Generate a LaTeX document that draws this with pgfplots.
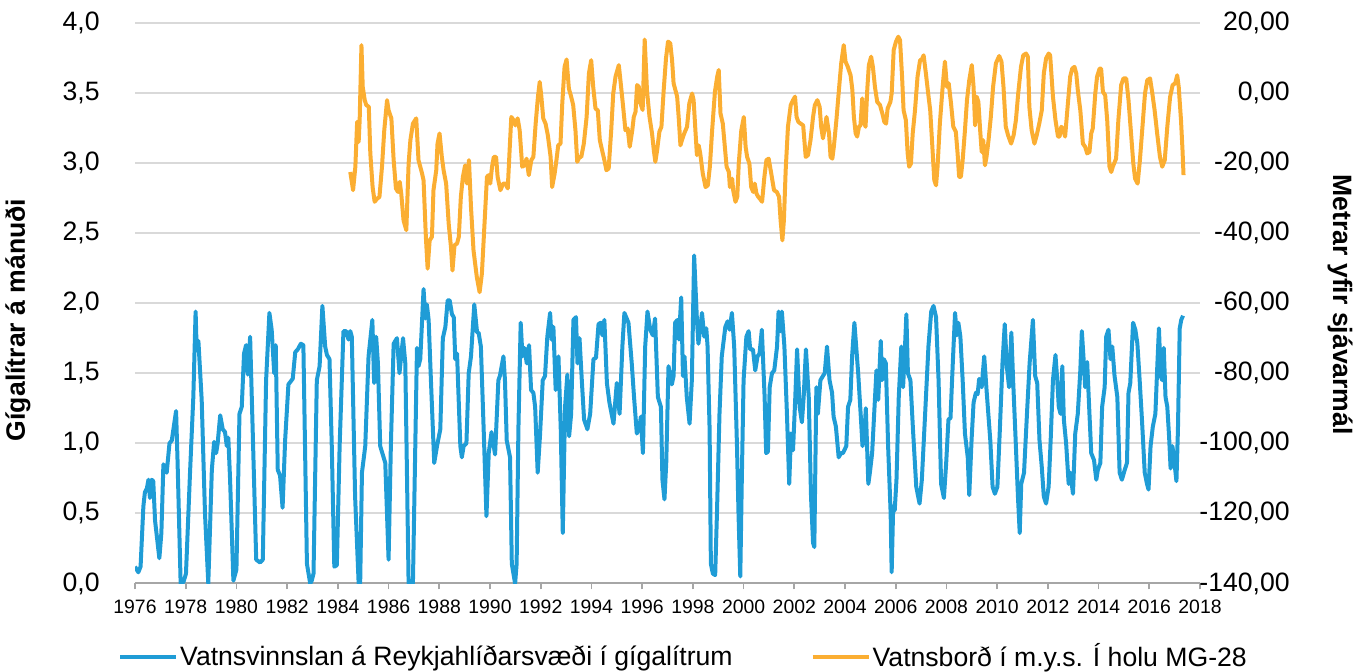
\documentclass[border=0pt]{standalone}
\usepackage{fontspec}
\setmainfont{Liberation Sans}
\usepackage{pgfplots}
\pgfplotsset{compat=1.18}
\pgfplotsset{/pgf/number format/assume math mode=true}
\definecolor{cblue}{RGB}{31,156,214}
\definecolor{corange}{RGB}{251,174,50}
\definecolor{cgrid}{RGB}{217,217,217}
\definecolor{caxis}{RGB}{166,166,166}
\newcommand{\bigf}{\fontsize{13.3}{16}\selectfont}
\newcommand{\smallf}{\fontsize{9.7}{11}\selectfont}
\begin{document}
\begin{tikzpicture}
\useasboundingbox (0,0) rectangle (681.5pt,336pt);
\begin{axis}[
  at={(67.5pt,44.25pt)}, anchor=south west,
  scale only axis, width=532.5pt, height=280.4pt,
  xmin=1976, xmax=2018, ymin=0, ymax=4,
  axis lines*=left,
  y axis line style={draw=none},
  x axis line style={caxis, line width=1pt},
  xtick={1976,1978,...,2018},
  xtick align=outside, xtick pos=bottom,
  major tick length=3pt,
  xtick style={caxis, line width=0.8pt},
  xticklabel style={font=\smallf, inner sep=0pt, yshift=-5pt, /pgf/number format/1000 sep={}},
  ytick={0,0.5,...,4},
  ytick style={draw=none}, ytick align=inside,
  yticklabel style={font=\bigf, anchor=east, inner sep=0pt, xshift=-17.5pt,
    /pgf/number format/.cd, fixed, fixed zerofill, precision=1, use comma},
  ymajorgrids, grid style={cgrid, line width=1pt},
  ylabel={Gígalítrar á mánuði},
  every axis y label/.style={at={(axis description cs:-0.11,0.47)}, rotate=90, anchor=center, font=\bfseries\bigf},
  legend columns=2,
  legend style={at={(axis description cs:0.515,-0.131)}, anchor=center, draw=none, fill=none,
    font=\bigf, nodes={inner sep=1pt}, /tikz/every even column/.append style={column sep=38pt}},
  legend image code/.code={\draw[#1] (0pt,0pt) -- (28pt,0pt);},
]
\addplot[cblue, line width=2pt, line join=round, no markers] coordinates {
(1976.00,0.12)(1976.13,0.08)(1976.22,0.12)(1976.33,0.55)(1976.39,0.65)(1976.47,0.68)(1976.53,0.74)(1976.59,0.61)(1976.66,0.74)(1976.72,0.73)(1976.79,0.45)(1976.96,0.18)
(1977.04,0.36)(1977.12,0.85)(1977.25,0.79)(1977.36,1.00)(1977.45,1.02)(1977.62,1.23)(1977.68,0.86)(1977.80,0.00)(1977.91,0.01)
(1978.01,0.07)(1978.17,0.79)(1978.30,1.33)(1978.39,1.94)(1978.43,1.68)(1978.50,1.73)(1978.63,1.31)(1978.76,0.50)(1978.89,0.00)
(1979.03,0.81)(1979.12,1.01)(1979.20,0.93)(1979.26,1.00)(1979.36,1.20)(1979.46,1.10)(1979.55,1.08)(1979.62,0.98)(1979.68,1.04)(1979.75,0.74)(1979.88,0.02)
(1980.00,0.10)(1980.12,1.21)(1980.21,1.26)(1980.30,1.64)(1980.38,1.70)(1980.45,1.49)(1980.54,1.76)(1980.64,1.10)(1980.78,0.17)(1980.93,0.15)
(1981.04,0.17)(1981.17,1.45)(1981.30,1.93)(1981.39,1.81)(1981.49,1.50)(1981.55,1.70)(1981.63,0.81)(1981.72,0.77)(1981.82,0.54)(1981.92,1.02)
(1982.05,1.42)(1982.22,1.46)(1982.32,1.65)(1982.42,1.67)(1982.54,1.71)(1982.64,1.70)(1982.78,0.14)(1982.91,0.00)(1982.97,0.02)
(1983.04,0.07)(1983.17,1.45)(1983.28,1.55)(1983.39,1.98)(1983.50,1.69)(1983.57,1.63)(1983.67,1.60)(1983.76,0.98)(1983.86,0.12)(1983.96,0.13)
(1984.07,0.98)(1984.22,1.80)(1984.33,1.80)(1984.42,1.74)(1984.49,1.80)(1984.55,1.76)(1984.68,0.62)(1984.82,0.00)(1984.88,0.00)(1984.95,0.79)
(1985.08,0.98)(1985.21,1.62)(1985.36,1.88)(1985.43,1.43)(1985.51,1.76)(1985.58,1.57)(1985.67,0.98)(1985.87,0.86)
(1986.00,0.17)(1986.09,0.98)(1986.20,1.71)(1986.33,1.75)(1986.43,1.50)(1986.57,1.75)(1986.66,1.57)(1986.79,0.00)(1986.96,0.00)
(1987.12,1.68)(1987.18,1.55)(1987.25,1.60)(1987.38,2.10)(1987.45,1.89)(1987.51,1.99)(1987.58,1.88)(1987.67,1.45)(1987.80,0.86)(1987.91,0.98)
(1988.04,1.10)(1988.14,1.75)(1988.24,1.83)(1988.33,2.02)(1988.41,2.02)(1988.50,1.92)(1988.57,1.90)(1988.63,1.60)(1988.70,1.64)(1988.83,0.98)(1988.89,0.90)(1988.96,0.98)
(1989.07,1.00)(1989.16,1.50)(1989.25,1.62)(1989.38,1.99)(1989.49,1.79)(1989.55,1.79)(1989.64,1.69)(1989.75,1.10)(1989.86,0.48)(1989.95,0.93)
(1990.06,1.08)(1990.20,0.92)(1990.33,1.45)(1990.39,1.48)(1990.53,1.62)(1990.59,1.45)(1990.66,1.02)(1990.79,0.90)(1990.86,0.14)(1990.99,0.00)
(1991.05,0.14)(1991.12,1.10)(1991.21,1.86)(1991.28,1.62)(1991.36,1.68)(1991.45,1.57)(1991.54,1.70)(1991.62,1.38)(1991.71,1.36)(1991.78,1.26)(1991.88,0.79)(1991.97,1.05)
(1992.08,1.45)(1992.17,1.48)(1992.26,1.76)(1992.37,1.93)(1992.43,1.74)(1992.50,1.83)(1992.59,1.38)(1992.70,1.62)(1992.79,1.10)(1992.87,0.36)(1992.96,1.26)
(1993.05,1.49)(1993.12,1.05)(1993.20,1.21)(1993.29,1.88)(1993.39,1.90)(1993.45,1.57)(1993.53,1.75)(1993.62,1.45)(1993.71,1.17)(1993.84,1.10)(1993.95,1.21)
(1994.08,1.60)(1994.18,1.61)(1994.28,1.85)(1994.37,1.86)(1994.43,1.77)(1994.51,1.88)(1994.61,1.43)(1994.71,1.29)(1994.87,1.14)
(1995.00,1.43)(1995.11,1.21)(1995.22,1.69)(1995.30,1.93)(1995.46,1.86)(1995.59,1.57)(1995.68,1.33)(1995.79,1.07)(1995.88,1.10)(1995.95,1.19)
(1996.03,0.93)(1996.12,1.69)(1996.21,1.94)(1996.32,1.81)(1996.42,1.77)(1996.51,1.89)(1996.62,1.33)(1996.74,1.26)(1996.80,0.74)(1996.88,0.60)(1996.95,0.86)
(1997.04,1.55)(1997.17,1.42)(1997.24,1.48)(1997.30,1.86)(1997.39,1.88)(1997.45,1.74)(1997.54,2.04)(1997.61,1.48)(1997.67,1.62)(1997.76,1.33)(1997.87,1.14)(1997.96,1.45)
(1998.05,2.34)(1998.16,1.88)(1998.22,1.71)(1998.36,1.93)(1998.45,1.76)(1998.53,1.82)(1998.58,1.69)(1998.66,1.10)(1998.71,0.14)(1998.79,0.07)(1998.88,0.06)(1998.95,0.50)
(1999.05,1.21)(1999.14,1.62)(1999.28,1.83)(1999.37,1.87)(1999.45,1.81)(1999.54,1.93)(1999.63,1.69)(1999.74,0.98)(1999.80,0.50)(1999.87,0.05)(1999.93,0.74)
(2000.00,1.45)(2000.11,1.76)(2000.20,1.80)(2000.26,1.67)(2000.37,1.67)(2000.46,1.52)(2000.55,1.62)(2000.63,1.64)(2000.72,1.81)(2000.83,1.33)(2000.89,0.93)(2000.96,0.94)
(2001.03,1.40)(2001.12,1.50)(2001.21,1.52)(2001.32,1.69)(2001.38,1.94)(2001.45,1.80)(2001.51,1.94)(2001.61,1.69)(2001.71,1.21)(2001.80,0.71)(2001.87,1.07)(2001.95,0.95)
(2002.04,1.33)(2002.11,1.67)(2002.21,1.26)(2002.30,1.15)(2002.37,1.33)(2002.46,1.67)(2002.57,1.33)(2002.66,0.62)(2002.74,0.29)(2002.79,0.26)(2002.87,1.40)(2002.93,1.21)
(2003.03,1.45)(2003.13,1.48)(2003.20,1.50)(2003.29,1.69)(2003.39,1.45)(2003.49,1.36)(2003.55,1.19)(2003.64,1.12)(2003.75,0.90)(2003.84,0.93)(2003.92,0.93)
(2004.05,0.98)(2004.12,1.26)(2004.21,1.31)(2004.28,1.62)(2004.37,1.86)(2004.52,1.50)(2004.63,1.17)(2004.69,0.98)(2004.76,1.05)(2004.82,1.25)(2004.92,0.71)(2004.98,0.79)
(2005.07,0.93)(2005.15,1.21)(2005.24,1.52)(2005.31,1.31)(2005.41,1.73)(2005.46,1.45)(2005.53,1.60)(2005.61,1.57)(2005.70,0.98)(2005.80,0.50)(2005.84,0.08)(2005.90,0.55)(2005.96,0.52)
(2006.03,0.74)(2006.12,1.33)(2006.22,1.69)(2006.29,1.40)(2006.35,1.62)(2006.42,1.92)(2006.48,1.50)(2006.58,1.45)(2006.68,1.10)(2006.81,0.69)(2006.94,0.57)
(2007.03,0.74)(2007.16,1.21)(2007.29,1.69)(2007.40,1.94)(2007.49,1.98)(2007.59,1.90)(2007.69,1.45)(2007.79,0.71)(2007.90,0.61)(2007.99,0.86)
(2008.08,1.17)(2008.16,1.18)(2008.25,1.57)(2008.34,1.93)(2008.41,1.77)(2008.47,1.86)(2008.55,1.76)(2008.64,1.45)(2008.73,1.07)(2008.84,0.90)(2008.90,0.63)(2008.99,1.02)
(2009.07,1.29)(2009.16,1.36)(2009.23,1.35)(2009.29,1.46)(2009.39,1.40)(2009.49,1.62)(2009.59,1.36)(2009.73,1.02)(2009.82,0.69)(2009.91,0.64)
(2010.01,0.69)(2010.10,1.07)(2010.21,1.57)(2010.30,1.85)(2010.38,1.55)(2010.47,1.40)(2010.56,1.79)(2010.63,1.45)(2010.73,1.02)(2010.82,0.62)(2010.89,0.36)(2010.95,0.71)
(2011.06,0.79)(2011.19,1.26)(2011.28,1.57)(2011.41,1.88)(2011.50,1.48)(2011.58,1.43)(2011.67,1.02)(2011.76,0.83)(2011.84,0.62)(2011.93,0.57)
(2012.03,0.69)(2012.11,1.02)(2012.20,1.45)(2012.30,1.63)(2012.37,1.45)(2012.43,1.26)(2012.50,1.21)(2012.57,1.55)(2012.63,1.17)(2012.72,1.00)(2012.82,0.71)(2012.89,0.79)(2012.99,0.64)
(2013.08,1.07)(2013.18,1.21)(2013.28,1.52)(2013.34,1.80)(2013.42,1.57)(2013.47,1.40)(2013.55,1.58)(2013.64,1.21)(2013.71,0.93)(2013.82,0.88)(2013.91,0.74)(2013.97,0.81)
(2014.07,0.86)(2014.14,1.26)(2014.24,1.40)(2014.30,1.76)(2014.39,1.81)(2014.47,1.60)(2014.54,1.69)(2014.63,1.48)(2014.74,1.33)(2014.83,0.79)(2014.92,0.74)
(2015.03,0.81)(2015.12,0.86)(2015.18,1.36)(2015.25,1.43)(2015.36,1.86)(2015.45,1.81)(2015.53,1.71)(2015.62,1.45)(2015.71,1.17)(2015.82,0.79)(2015.91,0.71)(2015.97,0.67)
(2016.05,0.98)(2016.14,1.12)(2016.24,1.21)(2016.32,1.57)(2016.38,1.82)(2016.45,1.48)(2016.51,1.45)(2016.57,1.68)(2016.64,1.33)(2016.71,1.26)(2016.78,1.05)(2016.84,0.82)(2016.91,0.98)(2016.97,0.90)
(2017.07,0.73)(2017.13,1.10)(2017.20,1.82)(2017.26,1.88)(2017.33,1.91)
};
\addlegendentry{Vatnsvinnslan á Reykjahlíðarsvæði í gígalítrum}
\addlegendimage{corange, line width=2pt}
\addlegendentry{Vatnsborð í m.y.s. Í holu MG-28}
\end{axis}
\begin{axis}[
  at={(67.5pt,44.25pt)}, anchor=south west,
  scale only axis, width=532.5pt, height=280.4pt,
  xmin=1976, xmax=2018, ymin=-140, ymax=20,
  axis x line=none, axis y line*=right,
  y axis line style={draw=none},
  xtick=\empty,
  ytick={-140,-120,...,20},
  ytick style={draw=none}, ytick align=inside,
  yticklabel style={font=\bigf, anchor=east, inner sep=0pt, xshift=45pt,
    /pgf/number format/.cd, fixed, fixed zerofill, precision=2, use comma},
  ylabel={Metrar yfir sjávarmál},
  every axis y label/.style={at={(axis description cs:1.1315,0.497)}, rotate=-90, anchor=center, font=\bfseries\bigf},
]
\addplot[corange, line width=2pt, line join=round, no markers] coordinates {
(1984.49,-22.6)(1984.60,-27.8)(1984.69,-21.1)(1984.76,-8.3)(1984.82,-14.0)(1984.86,-7.8)(1984.93,13.6)(1984.98,1.7)
(1985.06,-2.1)(1985.12,-3.5)(1985.22,-4.0)(1985.28,-17.3)(1985.37,-26.9)(1985.45,-31.1)(1985.55,-30.2)(1985.64,-29.7)(1985.74,-21.1)(1985.83,-10.7)(1985.94,-2.1)
(1986.00,-5.0)(1986.11,-7.3)(1986.20,-19.2)(1986.29,-27.3)(1986.37,-28.3)(1986.44,-25.4)(1986.50,-28.8)(1986.59,-36.4)(1986.70,-39.2)(1986.79,-20.2)(1986.86,-13.5)(1986.96,-8.8)
(1987.09,-7.3)(1987.18,-19.2)(1987.32,-23.0)(1987.38,-25.0)(1987.47,-41.1)(1987.54,-50.2)(1987.62,-42.1)(1987.71,-41.1)(1987.77,-27.8)(1987.88,-22.1)(1987.93,-14.5)
(1988.01,-11.6)(1988.10,-18.3)(1988.17,-22.1)(1988.27,-25.9)(1988.37,-37.3)(1988.46,-44.0)(1988.52,-50.7)(1988.60,-43.5)(1988.70,-43.0)(1988.77,-41.1)(1988.85,-29.7)(1988.93,-24.0)
(1989.02,-20.7)(1989.09,-25.9)(1989.17,-19.2)(1989.25,-32.6)(1989.35,-45.0)(1989.48,-52.6)(1989.59,-56.9)(1989.68,-51.6)(1989.77,-39.2)(1989.88,-24.0)(1989.94,-23.5)
(1990.01,-25.9)(1990.08,-21.1)(1990.15,-18.3)(1990.24,-18.3)(1990.30,-24.0)(1990.41,-27.8)(1990.52,-25.9)(1990.61,-25.9)(1990.70,-27.3)(1990.78,-15.4)(1990.84,-6.9)(1990.93,-7.8)
(1991.00,-9.3)(1991.09,-7.3)(1991.17,-10.7)(1991.27,-21.1)(1991.36,-20.7)(1991.44,-18.8)(1991.53,-23.5)(1991.63,-19.2)(1991.71,-18.3)(1991.80,-8.8)(1991.89,-1.2)(1991.96,3.1)
(1992.02,-0.7)(1992.10,-7.3)(1992.19,-8.8)(1992.28,-12.1)(1992.39,-18.3)(1992.45,-26.9)(1992.55,-23.0)(1992.62,-19.2)(1992.69,-15.0)(1992.78,-14.5)(1992.85,-3.0)(1992.94,7.4)
(1993.02,9.5)(1993.11,1.2)(1993.20,-1.1)(1993.28,-3.5)(1993.37,-10.7)(1993.44,-19.7)(1993.53,-18.3)(1993.60,-18.3)(1993.70,-14.5)(1993.81,-6.9)(1993.90,5.5)(1993.99,9.3)
(1994.07,1.7)(1994.16,-4.5)(1994.25,-5.0)(1994.33,-13.5)(1994.42,-16.4)(1994.51,-19.2)(1994.59,-22.1)(1994.68,-21.6)(1994.78,-10.7)(1994.86,-0.2)(1994.95,4.6)
(1995.08,7.9)(1995.17,1.7)(1995.25,-4.0)(1995.34,-10.7)(1995.43,-10.2)(1995.51,-15.4)(1995.61,-10.7)(1995.67,-6.9)(1995.74,-5.4)(1995.80,2.2)(1995.87,1.7)(1995.93,-3.0)
(1996.02,-4.9)(1996.10,15.2)(1996.19,0.7)(1996.29,-6.9)(1996.39,-11.6)(1996.46,-16.4)(1996.52,-19.7)(1996.59,-16.4)(1996.68,-11.1)(1996.76,-9.7)(1996.85,0.8)(1996.94,9.8)
(1997.02,14.6)(1997.11,14.1)(1997.18,9.3)(1997.24,2.7)(1997.31,0.8)(1997.38,-1.1)(1997.44,-6.9)(1997.51,-15.0)(1997.57,-13.5)(1997.66,-11.6)(1997.77,-9.7)(1997.86,-3.0)(1997.97,-0.2)
(1998.03,-2.1)(1998.10,-10.7)(1998.16,-17.8)(1998.23,-15.0)(1998.29,-17.3)(1998.39,-23.0)(1998.50,-26.9)(1998.59,-26.4)(1998.67,-21.1)(1998.76,-10.7)(1998.87,0.3)(1998.96,4.6)
(1999.02,6.5)(1999.09,-5.9)(1999.18,-8.8)(1999.25,-14.5)(1999.33,-21.1)(1999.42,-22.6)(1999.46,-26.9)(1999.55,-24.5)(1999.59,-27.8)(1999.68,-31.1)(1999.75,-29.7)(1999.81,-20.2)(1999.91,-10.7)
(2000.01,-6.9)(2000.08,-15.4)(2000.14,-18.3)(2000.23,-20.2)(2000.30,-26.9)(2000.38,-28.3)(2000.44,-25.9)(2000.51,-28.8)(2000.58,-29.7)(2000.64,-30.2)(2000.73,-31.1)(2000.82,-24.0)(2000.90,-19.2)(2000.99,-18.8)
(2001.09,-23.0)(2001.20,-27.8)(2001.31,-28.3)(2001.40,-29.7)(2001.46,-36.4)(2001.53,-42.1)(2001.59,-36.4)(2001.66,-22.1)(2001.75,-9.7)(2001.86,-3.5)(2001.95,-2.1)
(2002.03,-1.1)(2002.09,-6.9)(2002.16,-8.3)(2002.25,-8.8)(2002.35,-9.3)(2002.45,-18.3)(2002.54,-17.8)(2002.64,-13.5)(2002.74,-6.9)(2002.81,-3.5)(2002.91,-2.1)
(2003.00,-4.0)(2003.06,-9.7)(2003.13,-13.0)(2003.20,-10.2)(2003.27,-6.9)(2003.37,-11.6)(2003.43,-18.3)(2003.50,-18.8)(2003.56,-15.4)(2003.66,-7.8)(2003.76,0.8)(2003.85,8.4)(2003.95,13.6)
(2004.02,8.9)(2004.11,7.4)(2004.22,5.0)(2004.29,0.8)(2004.35,-6.9)(2004.42,-11.6)(2004.48,-12.5)(2004.55,-9.7)(2004.61,-9.3)(2004.68,-1.6)(2004.77,-8.8)(2004.81,-9.7)(2004.88,1.2)(2004.94,7.9)
(2005.03,10.3)(2005.10,7.4)(2005.18,1.7)(2005.27,-2.6)(2005.38,-3.5)(2005.49,-6.4)(2005.55,-8.3)(2005.62,-8.8)(2005.68,-4.5)(2005.79,-2.6)(2005.84,-0.2)(2005.92,12.2)
(2006.01,14.6)(2006.10,16.0)(2006.17,15.0)(2006.25,4.6)(2006.31,-5.0)(2006.40,-7.8)(2006.47,-17.3)(2006.53,-21.1)(2006.60,-20.2)(2006.67,-11.6)(2006.76,-5.0)(2006.86,4.6)(2006.96,9.3)
(2007.03,9.5)(2007.10,10.7)(2007.19,5.5)(2007.28,-0.2)(2007.36,-5.0)(2007.46,-17.3)(2007.52,-24.9)(2007.59,-26.4)(2007.65,-21.1)(2007.74,-8.8)(2007.85,1.7)(2007.94,8.9)
(2008.02,1.7)(2008.09,2.7)(2008.18,-3.0)(2008.27,-9.7)(2008.37,-11.1)(2008.44,-17.3)(2008.50,-24.0)(2008.57,-24.0)(2008.64,-19.2)(2008.73,-10.7)(2008.81,-2.1)(2008.90,3.6)
(2009.00,7.9)(2009.07,1.7)(2009.13,-9.3)(2009.19,-1.1)(2009.26,-2.6)(2009.33,-10.7)(2009.39,-16.9)(2009.45,-13.5)(2009.52,-20.7)(2009.58,-18.3)(2009.66,-13.5)(2009.75,-6.9)(2009.84,1.7)(2009.95,8.4)
(2010.08,10.5)(2010.17,8.9)(2010.25,1.7)(2010.34,-9.7)(2010.43,-12.1)(2010.55,-14.5)(2010.65,-12.1)(2010.74,-7.8)(2010.83,-0.2)(2010.94,7.4)
(2011.03,10.7)(2011.14,11.2)(2011.21,10.3)(2011.27,-4.0)(2011.36,-10.7)(2011.47,-14.5)(2011.56,-12.1)(2011.66,-8.8)(2011.76,-5.0)(2011.84,5.5)(2011.93,9.8)
(2012.03,11.2)(2012.09,10.7)(2012.20,-1.1)(2012.30,-7.8)(2012.40,-12.5)(2012.46,-12.5)(2012.53,-9.7)(2012.59,-10.2)(2012.68,-12.5)(2012.79,-3.0)(2012.88,4.6)(2012.96,6.9)
(2013.05,7.4)(2013.12,5.5)(2013.18,0.8)(2013.28,-5.0)(2013.38,-14.5)(2013.47,-15.4)(2013.55,-17.3)(2013.64,-16.9)(2013.71,-11.6)(2013.77,-10.2)(2013.87,-0.2)(2013.94,4.6)
(2014.04,6.9)(2014.10,6.9)(2014.17,0.3)(2014.26,-0.7)(2014.34,-7.8)(2014.43,-21.1)(2014.50,-22.6)(2014.56,-21.1)(2014.69,-18.8)(2014.78,-7.8)(2014.89,2.2)(2014.98,4.1)
(2015.09,4.1)(2015.18,-2.1)(2015.28,-11.6)(2015.37,-20.2)(2015.44,-24.5)(2015.54,-25.9)(2015.63,-19.2)(2015.73,-9.7)(2015.83,-0.2)(2015.92,3.6)
(2016.03,4.1)(2016.12,-0.2)(2016.21,-5.0)(2016.31,-11.6)(2016.42,-18.3)(2016.51,-21.1)(2016.61,-19.2)(2016.71,-9.7)(2016.82,-1.2)(2016.92,2.2)
(2017.02,2.7)(2017.10,5.0)(2017.16,1.7)(2017.25,-7.8)(2017.31,-16.4)(2017.35,-23.5)
};
\end{axis}
\end{tikzpicture}
\end{document}
